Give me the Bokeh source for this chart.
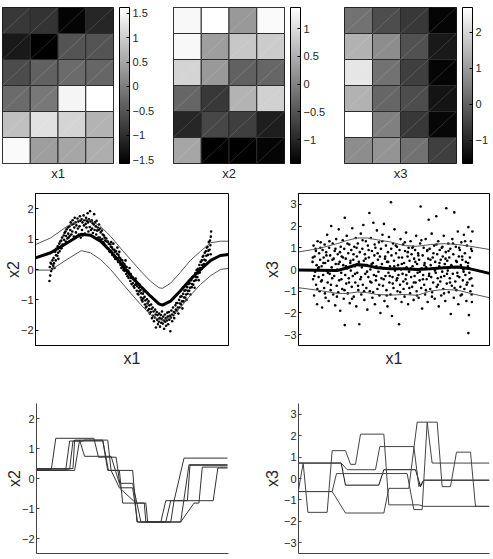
from bokeh.plotting import figure
from bokeh.layouts import column, row
from bokeh.models import (LinearColorMapper, ColorBar, FixedTicker, Range1d,
                          ColumnDataSource, CustomJSTickFormatter)
from bokeh.palettes import Greys256
from bokeh.embed import file_html
from bokeh.resources import INLINE

FONT = "Liberation Sans"
TEXT = "#262626"

# ---- SOM component planes (6 rows top->bottom, 4 columns) ----
plane_x1 = [[-0.88, -0.94, -1.52, -1.10],
            [-1.26, -1.58, -0.52, -0.52],
            [-0.62, -0.36, -0.24, -0.30],
            [-0.24, -0.08, 1.49, 1.62],
            [0.82, 1.24, 1.08, 0.66],
            [1.55, 0.40, 0.50, 0.60]]
plane_x2 = [[1.30, 1.38, 0.26, 1.32],
            [1.30, 0.31, 0.76, 0.82],
            [0.90, 0.26, -0.36, -0.31],
            [-0.31, -0.81, 0.54, 0.87],
            [-1.01, -0.64, -0.73, -1.09],
            [0.40, -1.43, -1.43, -1.37]]
plane_x3 = [[0.30, -0.34, -0.69, -1.55],
            [1.38, 0.74, -0.26, -1.21],
            [2.25, 0.30, -0.56, -1.55],
            [1.38, 0.09, -0.34, -1.30],
            [2.68, 0.52, -0.69, -1.51],
            [0.74, 0.87, 0.30, -0.56]]
plane_lims = [(-1.58, 1.62), (-1.43, 1.38), (-1.64, 2.68)]
plane_ticks = [[-1.5, -1, -0.5, 0, 0.5, 1, 1.5], [-1, -0.5, 0, 0.5, 1], [-1, 0, 1, 2]]
plane_names = ["x1", "x2", "x3"]

# ---- x2 against x1: samples and fitted mean / +-1 band ----
pts_x1_x2 = [
    (-1.625, -0.38), (-1.618, 0.08), (-1.61, -0.2), (-1.603, 0.22), (-1.592, -0.05), (-1.585, 0.18), (-1.573, 0.02),
    (-1.566, 0.3), (-1.551, 0.12), (-1.544, 0.38), (-1.536, 0.2), (-1.527, 0.05), (-1.512, 0.58), (-1.503, 0.3),
    (-1.497, 0.47), (-1.489, 0.68), (-1.47, 0.45), (-1.463, 0.76), (-1.455, 0.55), (-1.449, 0.35), (-1.431, 0.85),
    (-1.424, 0.6), (-1.415, 0.92), (-1.407, 0.7), (-1.392, 0.95), (-1.386, 0.7), (-1.377, 1.05), (-1.368, 0.82),
    (-1.352, 0.8), (-1.345, 1.12), (-1.336, 0.98), (-1.328, 1.2), (-1.311, 1.25), (-1.304, 0.92), (-1.296, 1.1),
    (-1.289, 1.32), (-1.273, 1.02), (-1.262, 1.38), (-1.255, 1.18), (-1.248, 1.05), (-1.232, 1.42), (-1.226, 1.1),
    (-1.215, 1.3), (-1.207, 1.55), (-1.193, 1.15), (-1.184, 1.48), (-1.176, 1.25), (-1.169, 1.62), (-1.153, 1.5),
    (-1.145, 1.08), (-1.137, 1.38), (-1.128, 1.7), (-1.112, 1.55), (-1.105, 1.22), (-1.096, 1.45), (-1.088, 1.1),
    (-1.073, 1.68), (-1.065, 1.35), (-1.057, 1.58), (-1.049, 1.15), (-1.033, 1.42), (-1.026, 1.75), (-1.017, 1.6),
    (-1.008, 1.05), (-0.992, 1.65), (-0.985, 1.3), (-0.976, 1.55), (-0.969, 1.12), (-0.953, 1.78), (-0.946, 1.45),
    (-0.937, 1.62), (-0.928, 1.18), (-0.912, 1.5), (-0.904, 1.7), (-0.897, 1.38), (-0.889, 1.6), (-0.874, 1.85),
    (-0.866, 1.55), (-0.858, 1.25), (-0.849, 1.65), (-0.832, 1.4), (-0.825, 1.92), (-0.817, 1.58), (-0.808, 1.3),
    (-0.793, 1.62), (-0.786, 1.35), (-0.777, 1.52), (-0.769, 1.2), (-0.752, 1.48), (-0.745, 1.82), (-0.736, 1.3),
    (-0.728, 1.55), (-0.713, 1.42), (-0.705, 1.15), (-0.697, 1.6), (-0.688, 1.28), (-0.674, 1.38), (-0.667, 1.05),
    (-0.658, 1.3), (-0.649, 1.48), (-0.633, 1.05), (-0.626, 1.35), (-0.617, 1.22), (-0.609, 0.98), (-0.592, 1.28),
    (-0.584, 1.0), (-0.577, 1.15), (-0.568, 0.9), (-0.553, 1.12), (-0.546, 0.85), (-0.537, 1.05), (-0.528, 0.95),
    (-0.512, 0.78), (-0.505, 1.02), (-0.496, 0.92), (-0.488, 0.7), (-0.473, 0.92), (-0.466, 0.68), (-0.457, 0.85),
    (-0.448, 0.6), (-0.432, 0.58), (-0.425, 0.82), (-0.417, 0.75), (-0.409, 0.9), (-0.393, 0.72), (-0.386, 0.48),
    (-0.377, 0.66), (-0.368, 0.85), (-0.352, 0.42), (-0.345, 0.65), (-0.336, 0.58), (-0.329, 0.35), (-0.313, 0.6),
    (-0.305, 0.38), (-0.296, 0.52), (-0.288, 0.72), (-0.274, 0.25), (-0.266, 0.48), (-0.257, 0.4), (-0.249, 0.58),
    (-0.233, 0.38), (-0.226, 0.15), (-0.217, 0.32), (-0.208, 0.05), (-0.193, 0.3), (-0.185, 0.08), (-0.177, 0.22),
    (-0.169, -0.02), (-0.152, 0.18), (-0.146, -0.05), (-0.137, 0.12), (-0.128, 0.3), (-0.113, -0.15), (-0.105, 0.08),
    (-0.096, -0.02), (-0.088, -0.22), (-0.073, -0.05), (-0.066, -0.28), (-0.057, -0.1), (-0.049, 0.05), (-0.033, -0.38),
    (-0.025, -0.15), (-0.016, -0.28), (-0.008, -0.48), (0.007, -0.25), (0.015, -0.45), (0.023, -0.32), (0.031, -0.55),
    (0.047, -0.6), (0.055, -0.38), (0.064, -0.5), (0.072, -0.3), (0.087, -0.48), (0.094, -0.7), (0.103, -0.55),
    (0.111, -0.8), (0.127, -0.82), (0.135, -0.6), (0.143, -0.72), (0.152, -0.5), (0.168, -0.68), (0.175, -0.92),
    (0.184, -0.78), (0.192, -1.0), (0.207, -1.05), (0.214, -0.8), (0.223, -0.95), (0.231, -0.72), (0.248, -0.9),
    (0.255, -1.15), (0.263, -1.02), (0.272, -1.25), (0.287, -1.22), (0.295, -0.98), (0.304, -1.12), (0.312, -1.35),
    (0.327, -1.05), (0.336, -1.3), (0.343, -1.18), (0.351, -1.45), (0.368, -1.4), (0.375, -1.15), (0.384, -1.3),
    (0.392, -1.6), (0.407, -1.25), (0.414, -1.52), (0.423, -1.38), (0.432, -1.7), (0.448, -1.58), (0.455, -1.32),
    (0.464, -1.48), (0.471, -1.91), (0.487, -1.4), (0.494, -1.65), (0.503, -1.5), (0.511, -1.8), (0.527, -1.72),
    (0.535, -1.45), (0.543, -1.6), (0.552, -1.88), (0.568, -1.5), (0.575, -1.75), (0.584, -1.62), (0.591, -1.38),
    (0.607, -1.78), (0.615, -1.55), (0.624, -1.68), (0.632, -1.95), (0.647, -1.48), (0.655, -1.72), (0.664, -1.6),
    (0.671, -1.85), (0.688, -1.68), (0.695, -1.42), (0.704, -1.55), (0.712, -1.8), (0.727, -1.4), (0.735, -1.65),
    (0.744, -1.52), (0.755, -2.03), (0.768, -1.58), (0.775, -1.35), (0.784, -1.48), (0.792, -1.7), (0.807, -1.25),
    (0.815, -1.5), (0.823, -1.4), (0.832, -1.6), (0.848, -1.42), (0.855, -1.18), (0.864, -1.32), (0.872, -1.1),
    (0.887, -1.35), (0.895, -1.1), (0.903, -1.25), (0.912, -1.45), (0.927, -1.0), (0.935, -1.25), (0.944, -1.12),
    (0.952, -0.9), (0.968, -1.15), (0.975, -0.88), (0.984, -1.05), (0.992, -1.28), (1.007, -0.8), (1.015, -1.05),
    (1.024, -0.92), (1.032, -0.7), (1.048, -0.92), (1.055, -0.68), (1.064, -0.82), (1.072, -1.0), (1.087, -0.58),
    (1.095, -0.8), (1.103, -0.7), (1.112, -0.48), (1.127, -0.7), (1.135, -0.45), (1.144, -0.6), (1.152, -0.82),
    (1.168, -0.35), (1.175, -0.58), (1.184, -0.48), (1.192, -0.25), (1.207, -0.5), (1.215, -0.22), (1.224, -0.38),
    (1.232, -0.6), (1.248, -0.12), (1.255, -0.35), (1.264, -0.25), (1.272, -0.02), (1.287, -0.25), (1.295, 0.02),
    (1.304, -0.12), (1.312, -0.35), (1.327, 0.15), (1.335, -0.1), (1.344, 0.05), (1.352, 0.25), (1.368, 0.02),
    (1.375, 0.3), (1.384, 0.15), (1.392, 0.42), (1.407, 0.45), (1.415, 0.18), (1.424, 0.32), (1.432, 0.55),
    (1.448, 0.3), (1.455, 0.6), (1.464, 0.45), (1.472, 0.72), (1.487, 0.75), (1.495, 0.48), (1.504, 0.62),
    (1.512, 0.9), (1.527, 0.65), (1.535, 0.95), (1.544, 0.8), (1.552, 1.08), (1.558, 1.25), (1.549, 0.5),
]
fit2_x = [-1.9, -1.6, -1.28, -1.0, -0.82, -0.62, -0.42, -0.23, -0.03, 0.17, 0.36, 0.53, 0.6, 0.76,
          0.95, 1.15, 1.35, 1.55, 1.74, 1.9]
fit2_mean = [0.38, 0.55, 0.87, 1.16, 1.13, 0.93, 0.6, 0.22, -0.2, -0.55, -0.87, -1.13, -1.17, -1.04,
             -0.71, -0.33, 0.0, 0.3, 0.46, 0.49]
fit2_hi = [0.82, 1.04, 1.42, 1.66, 1.62, 1.42, 1.09, 0.71, 0.33, -0.05, -0.38, -0.6, -0.62, -0.45,
           -0.1, 0.3, 0.6, 0.88, 0.93, 0.93]
fit2_lo = [-0.02, -0.02, 0.33, 0.62, 0.55, 0.33, 0.0, -0.38, -0.77, -1.15, -1.48, -1.65, -1.67, -1.58,
           -1.26, -0.85, -0.49, -0.2, 0.0, 0.04]

# ---- x3 against x1 ----
pts_x1_x3 = [
    (-1.62, 0.35), (-1.61, -0.45), (-1.6, 1.1), (-1.59, -1.2), (-1.58, 0.6), (-1.57, -0.1), (-1.56, 0.95), (-1.55, -0.7),
    (-1.54, 0.2), (-1.53, -1.6), (-1.52, 1.3), (-1.51, 0.05), (-1.5, -0.35), (-1.49, 0.75), (-1.48, -1.0), (-1.47, 0.45),
    (-1.46, 1.25), (-1.45, -0.55), (-1.44, 0.15), (-1.43, -1.75), (-1.42, 0.9), (-1.41, -0.25), (-1.4, 0.55), (-1.39, -0.85),
    (-1.38, 1.15), (-1.37, 0.3), (-1.36, -1.3), (-1.35, 0.8), (-1.34, -0.05), (-1.33, 1.6), (-1.32, -0.6), (-1.31, 0.4),
    (-1.3, -1.45), (-1.29, 1.0), (-1.28, -0.2), (-1.27, 0.65), (-1.26, -0.95), (-1.25, 2.0), (-1.24, 0.1), (-1.23, -0.4),
    (-1.22, 1.2), (-1.21, -1.15), (-1.2, 0.5), (-1.19, -0.3), (-1.18, 0.85), (-1.17, -1.65), (-1.16, 0.25), (-1.15, 1.4),
    (-1.14, -0.75), (-1.13, 0.0), (-1.12, 0.7), (-1.11, -1.05), (-1.1, 1.85), (-1.09, -0.5), (-1.08, 0.35), (-1.07, -1.9),
    (-1.06, 1.05), (-1.05, -0.15), (-1.04, 0.6), (-1.03, -0.9), (-1.02, 1.35), (-1.01, 0.2), (-1.0, -1.35), (-0.99, 0.95),
    (-0.98, 2.38), (-0.98, -2.56), (-0.97, -0.25), (-0.96, 0.5), (-0.95, -0.65), (-0.94, 1.55), (-0.93, 0.05), (-0.92, -1.1),
    (-0.91, 0.75), (-0.9, -0.4), (-0.89, 1.15), (-0.88, -1.55), (-0.87, 0.3), (-0.86, -0.05), (-0.85, 0.9), (-0.84, -0.8),
    (-0.83, 1.9), (-0.82, -0.3), (-0.81, 0.45), (-0.8, -1.25), (-0.79, 1.05), (-0.78, 0.15), (-0.77, -0.6), (-0.76, 1.45),
    (-0.75, -1.7), (-0.74, 0.6), (-0.73, -0.15), (-0.72, 1.2), (-0.71, -0.95), (-0.7, 0.35), (-0.69, -2.52), (-0.68, 0.8),
    (-0.67, -0.45), (-0.66, 1.65), (-0.65, -1.15), (-0.64, 0.1), (-0.63, 0.95), (-0.62, -0.7), (-0.61, 2.05), (-0.6, 0.4),
    (-0.59, -1.4), (-0.58, 0.7), (-0.57, -0.2), (-0.56, 1.3), (-0.55, -0.85), (-0.54, 0.2), (-0.53, -1.85), (-0.52, 1.1),
    (-0.51, -0.35), (-0.5, 0.55), (-0.49, 2.6), (-0.48, -1.0), (-0.47, 0.0), (-0.46, 1.45), (-0.45, -0.6), (-0.44, 0.85),
    (-0.43, -1.3), (-0.42, 0.3), (-0.41, 2.15), (-0.4, -0.25), (-0.39, 0.65), (-0.38, -1.6), (-0.37, 1.0), (-0.36, -0.5),
    (-0.35, 0.15), (-0.34, 1.8), (-0.33, -0.9), (-0.32, 0.45), (-0.31, -0.1), (-0.3, 1.25), (-0.29, -1.2), (-0.28, 0.6),
    (-0.27, -2.0), (-0.26, 0.95), (-0.25, -0.4), (-0.24, 0.25), (-0.23, 1.6), (-0.22, -0.75), (-0.21, 0.05), (-0.2, 2.1),
    (-0.19, -1.45), (-0.18, 0.5), (-0.17, -0.3), (-0.16, 1.1), (-0.15, -0.95), (-0.14, 0.35), (-0.13, -1.7), (-0.12, 0.8),
    (-0.11, -0.15), (-0.1, 1.5), (-0.09, -0.6), (-0.08, 0.15), (-0.07, -1.15), (-0.06, 3.1), (-0.05, 0.65), (-0.04, -2.14),
    (-0.03, -0.35), (-0.02, 1.2), (-0.01, -0.85), (0.0, 0.4), (0.01, 1.85), (0.02, -0.05), (0.03, -1.35), (0.04, 0.75),
    (0.05, -0.5), (0.06, 1.05), (0.07, -1.0), (0.08, 0.2), (0.09, -0.25), (0.1, -2.52), (0.11, 0.9), (0.12, -0.7),
    (0.13, 1.4), (0.14, 0.0), (0.15, -1.5), (0.16, 0.55), (0.17, -0.2), (0.18, 1.15), (0.19, -0.9), (0.2, 0.3),
    (0.21, -1.25), (0.22, 0.85), (0.23, -0.45), (0.24, 1.7), (0.25, 0.1), (0.26, -0.65), (0.27, 0.6), (0.28, -1.6),
    (0.29, 1.0), (0.3, -0.1), (0.31, 0.4), (0.32, -1.1), (0.33, 1.3), (0.34, -0.35), (0.35, 0.7), (0.36, -0.8),
    (0.37, 0.15), (0.38, 1.05), (0.39, -1.4), (0.4, 0.5), (0.41, -0.3), (0.42, 0.9), (0.43, -0.6), (0.44, 1.55),
    (0.45, -1.0), (0.46, 0.25), (0.47, -0.15), (0.48, 0.75), (0.49, -1.3), (0.5, 0.45), (0.51, -0.5), (0.52, 1.2),
    (0.53, 2.9), (0.54, -0.85), (0.55, 0.05), (0.56, -1.8), (0.57, 0.65), (0.58, -0.25), (0.59, 1.0), (0.6, -0.7),
    (0.61, 0.3), (0.62, -1.15), (0.63, 1.4), (0.64, 0.1), (0.65, -0.45), (0.66, 0.85), (0.67, -1.5), (0.68, 0.5),
    (0.69, 2.29), (0.7, -0.2), (0.71, 0.95), (0.72, -0.9), (0.73, 0.2), (0.74, -0.35), (0.75, 1.65), (0.76, -1.05),
    (0.77, 0.55), (0.78, -0.6), (0.79, 0.05), (0.8, 1.1), (0.81, -1.35), (0.82, 0.35), (0.83, -0.15), (0.84, 2.45),
    (0.85, -0.8), (0.86, 0.7), (0.87, -0.4), (0.88, 1.3), (0.89, -1.7), (0.9, 0.15), (0.91, 0.9), (0.92, -0.55),
    (0.93, 0.45), (0.94, -1.2), (0.95, 1.0), (0.96, -0.1), (0.97, 0.6), (0.98, -0.9), (0.99, 1.55), (1.0, -0.3),
    (1.01, 0.25), (1.02, -1.45), (1.03, 0.8), (1.04, 2.82), (1.05, -0.65), (1.06, 0.4), (1.07, -0.05), (1.08, 1.2),
    (1.09, -1.05), (1.1, 0.55), (1.11, -0.4), (1.12, 0.95), (1.13, -2.05), (1.14, 0.2), (1.15, -0.75), (1.16, 1.4),
    (1.17, -0.2), (1.18, 0.7), (1.19, -1.3), (1.2, 2.63), (1.21, 0.1), (1.22, -0.55), (1.23, 1.05), (1.24, -0.95),
    (1.25, 0.35), (1.26, -0.15), (1.27, 1.75), (1.28, -1.6), (1.29, 0.6), (1.3, -0.35), (1.31, 0.9), (1.32, -0.8),
    (1.33, 0.2), (1.34, 1.25), (1.35, -1.15), (1.36, 0.45), (1.37, -0.5), (1.38, 0.0), (1.39, 1.6), (1.4, -0.9),
    (1.41, 0.75), (1.42, -0.25), (1.43, 0.35), (1.44, -1.45), (1.45, 1.1), (1.46, -0.6), (1.47, 0.15), (1.48, 1.95),
    (1.48, -2.93), (1.49, -2.1), (1.5, -0.15), (1.51, 0.55), (1.52, -1.0), (1.53, 1.3), (1.54, -0.4), (1.55, 0.85),
    (1.56, -0.75), (1.56, 1.75), (1.55, -1.5),
    (-1.615, 0.55), (-1.585, -0.3), (-1.555, 0.85), (-1.525, -0.9), (-1.495, 0.1), (-1.465, 1.0), (-1.435, -0.5),
    (-1.405, 0.3), (-1.375, -1.1), (-1.345, 0.65), (-1.315, -0.15), (-1.285, 1.3), (-1.255, -0.7), (-1.225, 0.45),
    (-1.195, -0.05), (-1.165, 0.95), (-1.135, -1.25), (-1.105, 0.25), (-1.075, 0.8), (-1.045, -0.45), (-1.015, 0.55),
    (-0.985, -0.95), (-0.955, 0.15), (-0.925, 1.2), (-0.895, -0.6), (-0.865, 0.4), (-0.835, -1.35), (-0.805, 0.7),
    (-0.775, -0.2), (-0.745, 1.0), (-0.715, -0.75), (-0.685, 0.2), (-0.655, -0.35), (-0.625, 1.35), (-0.595, -1.0),
    (-0.565, 0.5), (-0.535, -0.1), (-0.505, 0.9), (-0.475, -0.55), (-0.445, 0.25), (-0.415, -1.05), (-0.385, 1.15),
    (-0.355, -0.3), (-0.325, 0.75), (-0.295, -0.7), (-0.265, 0.1), (-0.235, 1.3), (-0.205, -0.45), (-0.175, 0.6),
    (-0.145, -1.2), (-0.115, 0.35), (-0.085, -0.3), (-0.055, 0.95), (-0.025, -0.65), (0.005, 0.15), (0.035, 1.1),
    (0.065, -0.4), (0.095, 0.55), (0.125, -1.05), (0.155, 0.25), (0.185, -0.55), (0.215, 1.25), (0.245, -0.25),
    (0.275, 0.8), (0.305, -0.85), (0.335, 0.05), (0.365, 1.0), (0.395, -0.6), (0.425, 0.35), (0.455, -1.2),
    (0.485, 0.65), (0.515, -0.1), (0.545, 1.35), (0.575, -0.45), (0.605, 0.2), (0.635, -0.95), (0.665, 0.9),
    (0.695, -0.3), (0.725, 0.45), (0.755, -1.25), (0.785, 0.75), (0.815, -0.05), (0.845, 1.15), (0.875, -0.7),
    (0.905, 0.3), (0.935, -0.35), (0.965, 1.05), (0.995, -1.1), (1.025, 0.5), (1.055, -0.2), (1.085, 0.85),
    (1.115, -0.6), (1.145, 0.15), (1.175, 1.2), (1.205, -0.85), (1.235, 0.4), (1.265, -0.3), (1.295, 1.0),
    (1.325, -1.2), (1.355, 0.6), (1.385, -0.1), (1.415, 1.3), (1.445, -0.7), (1.475, 0.3), (1.505, -0.45),
    (1.535, 0.95), (1.545, -1.15),
]
fit3_x = [-1.9, -1.53, -1.13, -0.93, -0.73, -0.53, -0.34, -0.07, 0.2, 0.46, 0.73, 0.99, 1.26, 1.52, 1.9]
fit3_mean = [-0.02, -0.03, -0.05, 0.08, 0.23, 0.18, 0.08, 0.03, 0.03, 0.0, 0.03, 0.08, 0.12, 0.03, -0.18]
fit3_hi = [0.81, 0.95, 1.19, 1.34, 1.45, 1.45, 1.37, 1.27, 1.1, 1.07, 1.15, 1.19, 1.15, 1.07, 0.92]
fit3_lo = [-0.84, -0.95, -1.1, -1.1, -1.04, -1.07, -1.15, -1.18, -1.15, -1.19, -0.99, -0.92, -0.95, -1.1, -1.3]

# ---- piecewise paths of the map units ----
paths_x2 = [
    ([-1.9, -1.605, -1.519, -0.765, -0.673, -0.325, -0.24, 0.003, 0.101, 0.561, 0.659, 0.823, 1.02, 1.88],
     [0.31, 0.31, 1.34, 1.34, 0.71, 0.71, -0.31, -0.31, -1.45, -1.45, -0.74, -0.74, 0.68, 0.68]),
    ([-1.9, -1.323, -1.244, -0.981, -0.949, -0.588, -0.476, 0.003, 0.088, 0.954, 1.118, 1.88],
     [0.27, 0.27, 1.25, 1.25, 1.28, 1.28, 0.27, 0.27, -1.45, -1.45, 0.46, 0.46]),
    ([-1.9, -1.244, -1.178, -0.588, -0.49, -0.26, -0.194, 0.233, 0.265, 0.757, 0.823, 1.086, 1.138, 1.88],
     [0.31, 0.31, 1.25, 1.25, 0.27, 0.27, -0.82, -0.82, -1.45, -1.45, -0.74, -0.74, 0.44, 0.44]),
    ([-1.9, -1.145, -1.047, -0.949, -0.424, -0.26, 0.003, 0.167, 0.954, 1.217, 1.315, 1.381, 1.88],
     [0.27, 0.27, 1.28, 0.74, 0.74, -0.16, -0.16, -1.45, -1.45, -0.82, -0.82, 0.38, 0.38]),
    ([-1.9, -1.178, -1.145, -0.49, -0.424, -0.26, 0.069, 0.265, 0.3, 0.659, 0.757, 1.597, 1.689, 1.88],
     [0.33, 0.33, 1.28, 1.28, 0.27, -0.31, -0.82, -0.82, -1.45, -1.45, -0.74, -0.74, 0.35, 0.35]),
]
paths_x3 = [
    ([-1.9, -1.051, -0.965, -0.302, -0.202, 0.428, 0.527, 0.593, 1.9],
     [0.72, 0.72, -0.31, -0.31, 0.41, 0.41, -0.38, -0.08, -0.08]),
    ([-1.9, -1.807, -1.714, -1.33, -1.23, -0.965, -0.865, -0.766, -0.666, -0.202, -0.103, 0.494, 0.593, 1.9],
     [-0.54, 0.72, -1.58, -1.58, 1.30, 1.30, 0.66, 0.66, 2.07, 2.07, -1.23, -1.23, -1.30, -1.30]),
    ([-1.9, -1.23, -1.144, 0.262, 0.395, 0.56, 0.66, 0.759, 1.9],
     [-0.61, -0.61, 0.23, 0.23, -1.45, -1.45, 2.63, 0.72, 0.72]),
    ([-1.9, -1.23, -0.965, -0.202, -0.103, 0.295, 0.461, 0.859, 0.958, 1.124, 1.243, 1.522, 1.621, 1.9],
     [-0.61, -0.61, -1.61, -1.61, -0.46, -0.46, 2.63, 2.63, -0.38, -0.38, 1.23, 1.23, -1.30, -1.30]),
    ([-1.9, -1.051, -0.932, -0.368, -0.282, 0.395, 0.494, 0.593, 1.9],
     [0.72, 0.72, 0.41, 0.41, 1.49, 1.49, -0.38, -0.08, -0.08]),
]
path_colors_x3 = ["#111111", "#444444", "#444444", "#444444", "#444444"]

minus_fmt = CustomJSTickFormatter(code="return tick < 0 ? '\\u2212' + String(Math.abs(tick)) : String(tick);")


def base_fig(**kw):
    p = figure(output_backend="svg", toolbar_location=None, **kw)
    p.grid.visible = False
    p.background_fill_color = "white"
    p.border_fill_color = "white"
    return p


def style_y(ax, ticks, label_standoff):
    ax.ticker = FixedTicker(ticks=ticks)
    ax.formatter = minus_fmt
    ax.major_label_text_font = FONT
    ax.major_label_text_font_size = "11px"
    ax.major_label_text_color = TEXT
    ax.major_tick_in = 3
    ax.major_tick_out = 0
    ax.major_label_standoff = 2
    ax.minor_tick_line_color = None
    ax.axis_label_text_font = FONT
    ax.axis_label_text_font_size = "16px"
    ax.axis_label_text_font_style = "normal"
    ax.axis_label_text_color = TEXT
    ax.axis_label_standoff = label_standoff


def bare_x(ax, label=None, size="16px", standoff=2):
    # an x axis without ticks: only its line and, where given, its label
    ax.ticker = FixedTicker(ticks=[])
    ax.major_tick_line_color = None
    ax.minor_tick_line_color = None
    ax.major_label_standoff = 0
    if label:
        ax.axis_label = label
        ax.axis_label_text_font = FONT
        ax.axis_label_text_font_size = size
        ax.axis_label_text_font_style = "normal"
        ax.axis_label_text_color = TEXT
        ax.axis_label_standoff = standoff


def plane(values, lims, ticks, name, width, left, right):
    p = base_fig(width=width, height=185, x_range=Range1d(0, 4), y_range=Range1d(0, 6),
                 y_axis_location=None, min_border_left=left, min_border_right=right,
                 min_border_top=7, min_border_bottom=22)
    p.outline_line_color = "black"
    mapper = LinearColorMapper(palette=Greys256, low=lims[0], high=lims[1])
    xs, ys, vs = [], [], []
    for r, vals in enumerate(values):
        for c, v in enumerate(vals):
            xs.append(c + 0.5)
            ys.append(len(values) - r - 0.5)
            vs.append(v)
    src = ColumnDataSource(dict(x=xs, y=ys, v=vs,
                                x0=[x - 0.5 for x in xs], y0=[y - 0.5 for y in ys],
                                x1=[x + 0.5 for x in xs], y1=[y + 0.5 for y in ys]))
    p.rect("x", "y", 1, 1, source=src, fill_color={"field": "v", "transform": mapper},
           line_color="#2b2b2b", line_width=1)
    p.segment("x0", "y0", "x1", "y1", source=src, line_color="white", line_alpha=0.18, line_width=0.8)
    cb = ColorBar(color_mapper=mapper, ticker=FixedTicker(ticks=ticks), formatter=minus_fmt,
                  width=10, margin=0, padding=0, location=(6, 0),
                  bar_line_color="black", major_tick_line_color="black",
                  major_tick_in=3, major_tick_out=0, label_standoff=3,
                  major_label_text_font=FONT, major_label_text_font_size="11px",
                  major_label_text_color=TEXT,
                  background_fill_alpha=0, border_line_color=None)
    p.add_layout(cb, "right")
    bare_x(p.xaxis[0], name, "13px", 2)
    p.xaxis.axis_line_color = None
    return p


heat = [plane(plane_x1, plane_lims[0], plane_ticks[0], plane_names[0], 165, 2, 52),
        plane(plane_x2, plane_lims[1], plane_ticks[1], plane_names[1], 165, 8, 46),
        plane(plane_x3, plane_lims[2], plane_ticks[2], plane_names[2], 163, 14, 37)]


def scatter_panel(pts, fx, fm, fh, fl, ylim, yticks, ylabel, width, left, right, lab_off):
    p = base_fig(width=width, height=190, x_range=Range1d(-1.9, 1.9), y_range=Range1d(-ylim, ylim),
                 min_border_left=left, min_border_right=right, min_border_top=8, min_border_bottom=30)
    p.outline_line_color = "black"
    sx = [a for a, _ in pts]
    sy = [b for _, b in pts]
    p.scatter(sx, sy, size=2.6, color="black", line_width=0)
    p.line(fx, fh, line_color="#555555", line_width=1)
    p.line(fx, fl, line_color="#555555", line_width=1)
    p.line(fx, fm, line_color="black", line_width=3)
    style_y(p.yaxis[0], yticks, lab_off)
    p.yaxis.axis_label = ylabel
    p.yaxis.axis_line_color = "black"
    bare_x(p.xaxis[0], "x1", "16px", 4)
    p.xaxis.axis_line_color = "black"
    return p


def path_panel(paths, colors, ylim, yticks, ylabel, width, left, right, lab_off):
    p = base_fig(width=width, height=184, x_range=Range1d(-1.9, 1.9), y_range=Range1d(-ylim, ylim),
                 min_border_left=left, min_border_right=right, min_border_top=28, min_border_bottom=6)
    p.outline_line_color = None
    for (px, py), col in zip(paths, colors):
        p.line(px, py, line_color=col, line_width=1)
    style_y(p.yaxis[0], yticks, lab_off)
    p.yaxis.axis_label = ylabel
    p.yaxis.axis_line_color = "#444444"
    p.yaxis.major_tick_line_color = "#444444"
    bare_x(p.xaxis[0])
    p.xaxis.axis_line_color = "#444444"
    return p


mid_left = scatter_panel(pts_x1_x2, fit2_x, fit2_mean, fit2_hi, fit2_lo, 2.5, [-2, -1, 0, 1, 2], "x2", 250, 35, 22, -4)
mid_right = scatter_panel(pts_x1_x3, fit3_x, fit3_mean, fit3_hi, fit3_lo, 3.5, [-3, -2, -1, 0, 1, 2, 3], "x3", 243, 48, 4, 0)
low_left = path_panel(paths_x2, ["#333333"] * 5, 2.5, [-2, -1, 0, 1, 2], "x2", 250, 36, 22, -4)
low_right = path_panel(paths_x3, path_colors_x3, 3.5, [-3, -2, -1, 0, 1, 2, 3], "x3", 243, 48, 4, 0)

layout = column(row(*heat), row(mid_left, mid_right), row(low_left, low_right))
open("out.html", "w").write(file_html(layout, INLINE))
